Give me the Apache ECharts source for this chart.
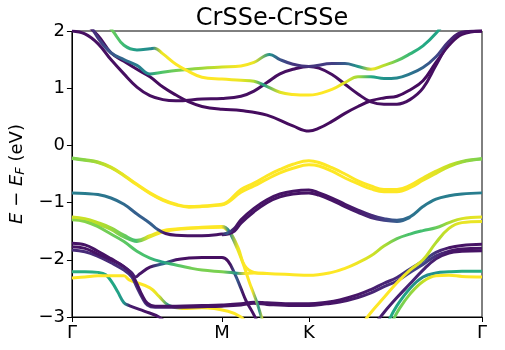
<!DOCTYPE html>
<html>
<head>
<meta charset="utf-8">
<script src="https://cdn.jsdelivr.net/npm/echarts@6/dist/echarts.min.js"></script>
<style>
  html, body { margin: 0; padding: 0; background: #fff; }
  #chart { width: 505px; height: 350px; }
</style>
</head>
<body>
<div id="chart"></div>
<script>
// high symmetry points along the path (k in units of the path length)
const kTicks = [0, 0.577, 0.911, 1.577];
const kLabels = ['Γ', 'M', 'K', 'Γ'];
const eTicks = [-3, -2, -1, 0, 1, 2];

// bands: [k, E - E_F (eV), layer weight 0..1]
const cb1 = [[0,2.35,0.03],[0.1,1.92,0.03],[0.15,1.62,0.03],[0.2,1.47,0.03],[0.25,1.33,0.03],[0.3,1.2,0.03],[0.35,1.02,0.03],[0.4,0.88,0.03],[0.45,0.76,0.03],[0.5,0.68,0.03],[0.577,0.63,0.03],[0.65,0.61,0.03],[0.75,0.53,0.03],[0.85,0.34,0.03],[0.911,0.25,0.03],[0.95,0.3,0.03],[1.0,0.42,0.03],[1.05,0.56,0.03],[1.1,0.68,0.03],[1.15,0.78,0.03],[1.2,0.83,0.03],[1.25,0.86,0.03],[1.3,0.97,0.03],[1.35,1.13,0.03],[1.4,1.45,0.03],[1.45,1.75,0.03],[1.5,1.94,0.03],[1.577,2.0,0.03]];
const cb2 = [[0,2.0,0.04],[0.05,1.95,0.04],[0.1,1.78,0.04],[0.15,1.5,0.04],[0.2,1.25,0.04],[0.25,1.02,0.04],[0.3,0.87,0.04],[0.35,0.8,0.04],[0.4,0.78,0.04],[0.5,0.81,0.04],[0.577,0.82,0.04],[0.65,0.86,0.04],[0.7,0.95,0.04],[0.75,1.1,0.04],[0.8,1.25,0.04],[0.85,1.33,0.04],[0.911,1.38,0.04],[0.95,1.35,0.04],[1.0,1.24,0.04],[1.05,1.07,0.04],[1.1,0.9,0.04],[1.15,0.76,0.04],[1.2,0.72,0.04],[1.25,0.72,0.04],[1.3,0.8,0.04],[1.35,1.0,0.04],[1.4,1.4,0.04],[1.45,1.78,0.04],[1.5,1.97,0.04],[1.577,2.0,0.04]];
const cb3 = [[0.1,2.3,0.8],[0.157,2.0,0.78],[0.2,1.75,0.7],[0.25,1.67,0.55],[0.3,1.69,0.48],[0.317,1.7,0.45],[0.35,1.6,0.97],[0.4,1.42,1.0],[0.45,1.29,1.0],[0.5,1.19,1.0],[0.577,1.16,1.0],[0.65,1.14,0.97],[0.7,1.12,0.88],[0.737,1.06,0.55],[0.8,0.93,0.95],[0.85,0.89,1.0],[0.911,0.88,1.0],[1.0,0.98,1.0],[1.05,1.1,0.95],[1.1,1.2,0.85],[1.15,1.2,0.6],[1.2,1.17,0.5],[1.25,1.18,0.45],[1.3,1.25,0.38],[1.35,1.36,0.3],[1.4,1.55,0.2],[1.45,1.82,0.1],[1.5,1.98,0.05],[1.577,2.0,0.02]];
const cb4 = [[0.05,2.3,0.1],[0.1,1.88,0.15],[0.15,1.62,0.25],[0.2,1.5,0.33],[0.25,1.4,0.4],[0.3,1.25,0.48],[0.336,1.27,0.7],[0.4,1.31,0.78],[0.5,1.35,0.85],[0.577,1.37,0.93],[0.65,1.39,1.0],[0.7,1.45,0.97],[0.76,1.59,0.5],[0.8,1.5,0.25],[0.85,1.42,0.15],[0.911,1.38,0.15],[1.0,1.43,0.18],[1.05,1.43,0.3],[1.1,1.38,0.55],[1.15,1.33,0.97],[1.2,1.4,0.88],[1.25,1.48,0.75],[1.3,1.6,0.65],[1.35,1.74,0.6],[1.4,1.96,0.58],[1.45,2.25,0.55]];

const vb1a = [[0,-0.22,0.8],[0.05,-0.25,0.82],[0.1,-0.29,0.86],[0.15,-0.38,0.92],[0.2,-0.52,0.96],[0.25,-0.68,1.0],[0.3,-0.83,1.0],[0.35,-0.95,1.0],[0.4,-1.03,1.0],[0.45,-1.07,1.0],[0.5,-1.06,1.0],[0.55,-1.04,1.0],[0.585,-1.02,1.0],[0.65,-0.77,1.0],[0.7,-0.66,1.0],[0.75,-0.53,1.0],[0.8,-0.42,1.0],[0.85,-0.33,1.0],[0.911,-0.27,1.0],[0.95,-0.3,1.0],[1.0,-0.39,1.0],[1.05,-0.5,1.0],[1.1,-0.62,1.0],[1.15,-0.71,1.0],[1.2,-0.77,1.0],[1.25,-0.77,1.0],[1.3,-0.7,1.0],[1.35,-0.57,0.98],[1.4,-0.45,0.95],[1.45,-0.35,0.9],[1.5,-0.28,0.84],[1.577,-0.23,0.8]];
const vb1b = [[0,-0.23,0.8],[0.05,-0.26,0.82],[0.1,-0.3,0.86],[0.15,-0.39,0.92],[0.2,-0.53,0.96],[0.25,-0.69,1.0],[0.3,-0.84,1.0],[0.35,-0.96,1.0],[0.4,-1.04,1.0],[0.45,-1.08,1.0],[0.5,-1.07,1.0],[0.55,-1.05,1.0],[0.585,-1.03,1.0],[0.65,-0.82,1.0],[0.7,-0.71,1.0],[0.75,-0.59,1.0],[0.8,-0.48,1.0],[0.85,-0.4,1.0],[0.911,-0.34,1.0],[0.95,-0.36,1.0],[1.0,-0.45,1.0],[1.05,-0.57,1.0],[1.1,-0.67,1.0],[1.15,-0.76,1.0],[1.2,-0.81,1.0],[1.25,-0.81,1.0],[1.3,-0.74,1.0],[1.35,-0.61,0.98],[1.4,-0.49,0.95],[1.45,-0.37,0.9],[1.5,-0.29,0.84],[1.577,-0.24,0.8]];
const vb2a = [[0,-0.83,0.42],[0.05,-0.84,0.42],[0.1,-0.86,0.4],[0.15,-0.92,0.38],[0.2,-1.03,0.35],[0.25,-1.2,0.3],[0.3,-1.36,0.3],[0.33,-1.47,0.3],[0.36,-1.54,0.06],[0.4,-1.57,0.05],[0.5,-1.58,0.05],[0.577,-1.55,0.05],[0.6,-1.53,0.3],[0.625,-1.45,0.06],[0.65,-1.3,0.05],[0.7,-1.1,0.05],[0.75,-0.95,0.05],[0.8,-0.85,0.05],[0.85,-0.8,0.05],[0.911,-0.78,0.05],[0.95,-0.83,0.05],[1.0,-0.92,0.05],[1.05,-1.03,0.06],[1.1,-1.13,0.08],[1.15,-1.22,0.12],[1.2,-1.28,0.2],[1.25,-1.31,0.3],[1.3,-1.25,0.38],[1.35,-1.07,0.4],[1.4,-0.94,0.42],[1.45,-0.88,0.42],[1.5,-0.85,0.42],[1.577,-0.83,0.42]];
const vb2b = [[0.577,-1.56,0.05],[0.6,-1.55,0.05],[0.625,-1.5,0.05],[0.65,-1.36,0.05],[0.7,-1.16,0.05],[0.75,-1.0,0.05],[0.8,-0.9,0.05],[0.85,-0.85,0.05],[0.911,-0.83,0.05],[0.95,-0.87,0.05],[1.0,-0.96,0.05],[1.05,-1.07,0.06],[1.1,-1.17,0.08],[1.15,-1.26,0.12],[1.2,-1.31,0.2],[1.25,-1.33,0.3],[1.3,-1.26,0.38]];
const vb3a = [[0,-1.25,0.93],[0.05,-1.28,0.92],[0.1,-1.35,0.9],[0.15,-1.44,0.86],[0.2,-1.57,0.78],[0.25,-1.66,0.7],[0.3,-1.58,0.95],[0.35,-1.49,1.0],[0.4,-1.46,1.0],[0.5,-1.43,1.0],[0.577,-1.42,1.0],[0.605,-1.5,0.45],[0.64,-1.8,0.97],[0.664,-2.1,1.0],[0.7,-2.22,1.0],[0.75,-2.24,1.0],[0.85,-2.26,1.0],[0.911,-2.27,1.0],[1.0,-2.22,1.0],[1.05,-2.15,1.0],[1.1,-2.05,0.97],[1.15,-1.93,0.93],[1.2,-1.76,0.87],[1.25,-1.63,0.75],[1.3,-1.55,0.7],[1.35,-1.49,0.7],[1.4,-1.44,0.78],[1.45,-1.35,0.88],[1.5,-1.28,0.95],[1.577,-1.25,0.97]];
const vb3b = [[0,-1.3,0.82],[0.05,-1.33,0.82],[0.1,-1.42,0.8],[0.15,-1.55,0.78],[0.2,-1.68,0.75],[0.25,-1.85,0.72],[0.3,-1.97,0.7],[0.35,-2.04,0.55],[0.4,-2.09,0.72],[0.45,-2.14,0.78],[0.5,-2.18,0.8],[0.577,-2.21,0.8],[0.625,-2.23,0.5],[0.66,-2.24,1.0],[0.7,-2.23,1.0],[0.75,-2.24,1.0]];
const vb4 = [[0,-1.28,0.93],[0.05,-1.31,0.92],[0.1,-1.38,0.9],[0.15,-1.47,0.86],[0.2,-1.6,0.78],[0.25,-1.68,0.7],[0.3,-1.6,0.95],[0.35,-1.51,1.0],[0.4,-1.47,1.0],[0.5,-1.44,1.0],[0.577,-1.43,1.0],[0.605,-1.52,0.45],[0.626,-1.7,0.97],[0.653,-2.0,1.0],[0.683,-2.4,1.0],[0.71,-2.73,0.5],[0.729,-3.0,1.0],[0.74,-3.15,1.0]];
const vb5 = [[0,-1.77,0.05],[0.05,-1.8,0.05],[0.1,-1.9,0.05],[0.15,-2.0,0.05],[0.2,-2.12,0.06],[0.23,-2.23,0.08],[0.245,-2.3,0.08],[0.26,-2.25,0.06],[0.3,-2.13,0.05],[0.35,-2.07,0.35],[0.4,-2.0,0.05],[0.45,-1.97,0.04],[0.5,-1.96,0.04],[0.577,-1.96,0.04],[0.6,-2.02,0.04],[0.626,-2.24,0.3],[0.65,-2.5,0.05],[0.67,-2.72,0.05],[0.69,-2.88,0.05],[0.71,-3.05,0.05]];
const vb6 = [[0,-1.71,0.05],[0.05,-1.74,0.05],[0.1,-1.85,0.05],[0.15,-1.98,0.05],[0.2,-2.12,0.05],[0.23,-2.25,0.05],[0.25,-2.42,0.05],[0.27,-2.62,0.05],[0.29,-2.76,0.05],[0.32,-2.81,0.05],[0.4,-2.81,0.05],[0.5,-2.8,0.05],[0.577,-2.79,0.05],[0.65,-2.77,0.05],[0.7,-2.74,0.05],[0.75,-2.75,0.05],[0.85,-2.77,0.05],[0.911,-2.77,0.05],[0.98,-2.74,0.05],[1.03,-2.7,0.05],[1.1,-2.61,0.06],[1.15,-2.52,0.08],[1.2,-2.41,0.1],[1.25,-2.31,0.12],[1.3,-2.16,0.2],[1.35,-2.02,0.25],[1.4,-1.87,0.12],[1.45,-1.79,0.05],[1.5,-1.75,0.05],[1.577,-1.73,0.05]];
const vb7 = [[0,-1.83,0.12],[0.05,-1.86,0.12],[0.1,-1.94,0.12],[0.15,-2.05,0.12],[0.2,-2.18,0.14],[0.23,-2.3,0.15],[0.25,-2.48,0.15],[0.27,-2.66,0.15],[0.29,-2.79,0.15],[0.32,-2.83,0.12],[0.4,-2.83,0.06],[0.5,-2.82,0.05],[0.577,-2.81,0.05],[0.65,-2.79,0.05],[0.7,-2.76,0.05],[0.75,-2.78,0.05],[0.85,-2.8,0.05],[0.911,-2.8,0.05],[0.98,-2.77,0.05],[1.03,-2.74,0.06],[1.1,-2.66,0.08],[1.15,-2.58,0.1],[1.2,-2.47,0.12],[1.25,-2.37,0.15],[1.3,-2.22,0.2],[1.35,-2.08,0.2],[1.4,-1.93,0.12],[1.45,-1.85,0.06],[1.5,-1.81,0.05],[1.577,-1.8,0.05]];
const vb8 = [[1.17,-3.1,0.08],[1.2,-2.92,0.08],[1.25,-2.66,0.08],[1.3,-2.42,0.1],[1.35,-2.18,0.1],[1.4,-1.98,0.08],[1.45,-1.88,0.06],[1.5,-1.85,0.05],[1.577,-1.84,0.05]];
const vb9 = [[1.12,-3.1,1.0],[1.15,-2.92,1.0],[1.2,-2.66,1.0],[1.25,-2.4,1.0],[1.3,-2.18,0.97],[1.35,-2.0,0.93],[1.4,-1.7,0.88],[1.45,-1.45,0.93],[1.5,-1.35,0.97],[1.577,-1.33,0.97]];
const vb10 = [[1.23,-3.1,0.75],[1.26,-2.85,0.78],[1.3,-2.6,0.82],[1.35,-2.38,0.9],[1.4,-2.28,1.0],[1.45,-2.27,1.0],[1.5,-2.29,1.0],[1.577,-2.3,1.0]];
const vb11 = [[1.22,-3.05,0.6],[1.25,-2.8,0.6],[1.3,-2.5,0.55],[1.35,-2.3,0.45],[1.4,-2.23,0.5],[1.45,-2.21,0.6],[1.5,-2.2,0.62],[1.577,-2.2,0.62]];
const vb12 = [[0,-2.21,0.62],[0.05,-2.21,0.62],[0.1,-2.22,0.62],[0.13,-2.26,0.6],[0.155,-2.4,0.6],[0.176,-2.56,0.58],[0.2,-2.75,0.5],[0.22,-2.8,0.08],[0.28,-2.9,0.05],[0.335,-3.0,0.05],[0.36,-3.1,0.05]];
const vb13 = [[0,-2.32,1.0],[0.05,-2.3,1.0],[0.1,-2.28,1.0],[0.2,-2.28,1.0],[0.22,-2.35,1.0],[0.3,-2.49,1.0],[0.335,-2.64,0.95],[0.37,-2.79,0.5],[0.425,-2.85,1.0],[0.5,-2.84,1.0],[0.6,-2.9,1.0],[0.65,-3.0,1.0],[0.67,-3.1,1.0]];

const bands = [vb12, vb13, vb11, vb10, vb8, vb7, vb6, vb5, vb9, vb4, vb3b, vb3a, vb2b, vb2a, vb1b, vb1a, cb1, cb2, cb4, cb3];

// viridis colour map
const viridis = ['#440154','#482475','#414487','#355f8d','#2a788e','#21918c','#22a884','#44bf70','#7ad151','#bddf26','#fde725'];
function hex2rgb(h) {
  return [parseInt(h.slice(1,3),16), parseInt(h.slice(3,5),16), parseInt(h.slice(5,7),16)];
}
function vColor(w) {
  w = Math.max(0, Math.min(1, w)) * (viridis.length - 1);
  const i = Math.min(Math.floor(w), viridis.length - 2);
  const t = w - i;
  const a = hex2rgb(viridis[i]), b = hex2rgb(viridis[i + 1]);
  const c = a.map((v, j) => Math.round(v + (b[j] - v) * t));
  return 'rgb(' + c.join(',') + ')';
}

function bandSeries(band) {
  const k0 = band[0][0], k1 = band[band.length - 1][0];
  const stops = band.map(p => ({ offset: (p[0] - k0) / (k1 - k0), color: vColor(p[2]) }));
  return {
    type: 'line',
    data: band.map(p => [p[0], p[1]]),
    showSymbol: false,
    smooth: 0.4,
    clip: true,
    silent: true,
    lineStyle: { width: 3, color: new echarts.graphic.LinearGradient(0, 0, 1, 0, stops) }
  };
}

const chart = echarts.init(document.getElementById('chart'));
const font = 'DejaVu Sans';
chart.setOption({
  animation: false,
  title: {
    text: 'CrSSe-CrSSe',
    left: 267,
    top: 2,
    textAlign: 'center',
    textStyle: { fontFamily: font, fontSize: 24, fontWeight: 'normal', color: '#000' }
  },
  grid: { left: 69, right: 23, top: 31, bottom: 33, show: true, borderColor: '#000', borderWidth: 1 },
  xAxis: {
    type: 'value',
    min: 0,
    max: 1.577,
    axisLine: { show: true, onZero: false, lineStyle: { color: '#000', width: 1 } },
    axisTick: { show: true, length: 5, lineStyle: { color: '#000' }, customValues: kTicks },
    axisLabel: {
      customValues: kTicks,
      formatter: v => kLabels[kTicks.indexOf(v)],
      fontFamily: font, fontSize: 18, color: '#000', margin: 7
    },
    splitLine: { show: false }
  },
  yAxis: {
    type: 'value',
    min: -3,
    max: 2,
    interval: 1,
    name: '{it|E} − {it|E}{sub|F} (eV)',
    nameLocation: 'middle',
    nameGap: 30,
    nameRotate: 90,
    nameTextStyle: {
      fontFamily: font, fontSize: 18, color: '#000',
      rich: {
        it: { fontFamily: font, fontSize: 18, fontStyle: 'italic', color: '#000' },
        sub: { fontFamily: font, fontSize: 13, fontStyle: 'italic', color: '#000', verticalAlign: 'bottom', padding: [8, 0, 0, 0] }
      }
    },
    axisLine: { show: true, onZero: false, lineStyle: { color: '#000', width: 1 } },
    axisTick: { show: true, length: 5, lineStyle: { color: '#000' } },
    axisLabel: {
      formatter: v => (v < 0 ? '\u2212' + Math.abs(v) : String(v)),
      fontFamily: font, fontSize: 18, color: '#000', margin: 7
    },
    splitLine: { show: false }
  },
  series: bands.map(bandSeries)
});
</script>
</body>
</html>
